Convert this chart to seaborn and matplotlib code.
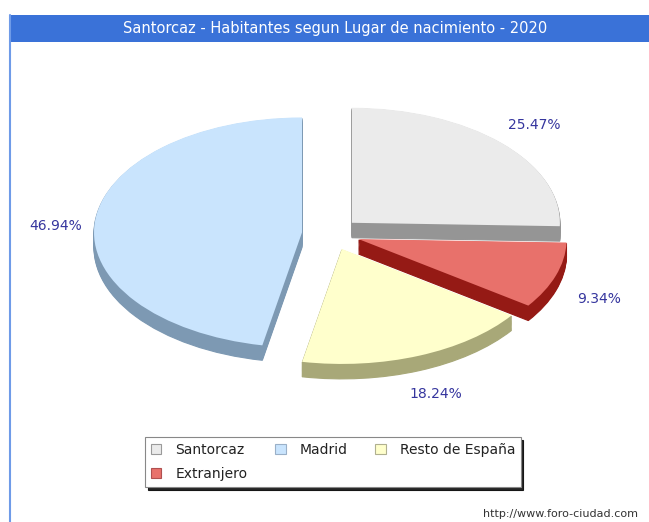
import matplotlib
matplotlib.use("Agg")
import matplotlib.pyplot as plt
import seaborn as sns
import numpy as np
from matplotlib.patches import Patch, Rectangle
from matplotlib.lines import Line2D

# ---- data ----
title = "Santorcaz - Habitantes segun Lugar de nacimiento - 2020"
pie_categories = ["Santorcaz", "Extranjero", "Resto de España", "Madrid"]  # clockwise from top
pie_values = [25.47, 9.34, 18.24, 46.94]
legend_order = ["Santorcaz", "Extranjero", "Madrid", "Resto de España"]  # column-major fill
top_colors = {"Santorcaz": "#ebebeb", "Madrid": "#c9e4fd",
              "Resto de España": "#ffffcc", "Extranjero": "#e8716b"}
side_colors = {"Santorcaz": "#959595", "Madrid": "#7d99b3",
               "Resto de España": "#a8a878", "Extranjero": "#951a15"}
legend_edges = {"Santorcaz": "#9a9a9a", "Madrid": "#9ab0c8",
                "Resto de España": "#b0b090", "Extranjero": "#b05050"}
source = "http://www.foro-ciudad.com"

sns.set_theme(style="white")
plt.rcParams["font.family"] = ["DejaVu Sans"]

W, H = 649, 522
fig = plt.figure(figsize=(W / 100, H / 100), dpi=100)
fig.patch.set_facecolor("white")

# pie geometry (pixels)
cx, cy = 331, 234
rx, ry = 208, 115
ax_l, ax_r, ax_t, ax_b = 10, 649, 42, 522
ax = fig.add_axes([ax_l / W, 1 - ax_b / H, (ax_r - ax_l) / W, (ax_b - ax_t) / H])

explode = [0.14] * len(pie_values)
depth = 0.13
layers = np.linspace(-depth, 0, 14)

for k in layers[:-1]:
    ax.pie(pie_values, explode=explode, startangle=90, counterclock=False,
           colors=[side_colors[c] for c in pie_categories], center=(0, k),
           wedgeprops=dict(linewidth=0.8, edgecolor=None), frame=False)
    for w, c in zip(ax.patches[-len(pie_values):], pie_categories):
        w.set_edgecolor(side_colors[c])

wedges, texts, autotexts = ax.pie(
    pie_values, explode=explode, startangle=90, counterclock=False,
    colors=[top_colors[c] for c in pie_categories], center=(0, 0),
    autopct="%.2f%%", pctdistance=1.22,
    textprops=dict(color="#35359e", fontsize=10),
    wedgeprops=dict(linewidth=0), frame=False)

for w, t in zip(wedges, autotexts):
    mid = np.deg2rad((w.theta1 + w.theta2) / 2)
    x, y = t.get_position()
    if np.sin(mid) < 0:
        t.set_position((x, y - depth))
    elif np.sin(mid) < 0.2:
        t.set_position((x + 0.03, y - depth * 0.5))

ax.set_aspect("auto")
ax.set_xlim(-(cx - ax_l) / rx, (ax_r - cx) / rx)
ax.set_ylim(-(ax_b - cy) / ry, (cy - ax_t) / ry)
ax.axis("off")

# title bar
fig.patches.append(Rectangle((10 / W, 1 - 42 / H), (W - 10) / W, 27 / H,
                             transform=fig.transFigure, facecolor="#3a72d8",
                             edgecolor="none", zorder=0))
fig.lines.append(Line2D([9.5 / W, 9.5 / W], [0, 1 - 15 / H], transform=fig.transFigure,
                        color="#6f9be8", linewidth=1.5))
fig.text(335 / W, 1 - 28.5 / H, title, color="white", fontsize=10.5,
         ha="center", va="center")

# legend
handles = [Patch(facecolor=top_colors[c], edgecolor=legend_edges[c], linewidth=0.8)
           for c in legend_order]
leg = fig.legend(handles, legend_order, loc="center", ncol=3,
                 bbox_to_anchor=(333 / W, 1 - 462 / H), frameon=True,
                 fancybox=False, shadow={"color": "black", "alpha": 0.85},
                 edgecolor="#888888", fontsize=10, handlelength=0.75,
                 handleheight=0.75, handletextpad=1.0, columnspacing=2.0,
                 borderpad=0.4, labelspacing=0.75)
leg.get_frame().set_linewidth(0.8)
for t in leg.get_texts():
    t.set_color("#222222")

fig.text(638 / W, 1 - 514 / H, source, color="#333333", fontsize=8,
         ha="right", va="center")

fig.savefig("out.png", dpi=100, facecolor="white")
